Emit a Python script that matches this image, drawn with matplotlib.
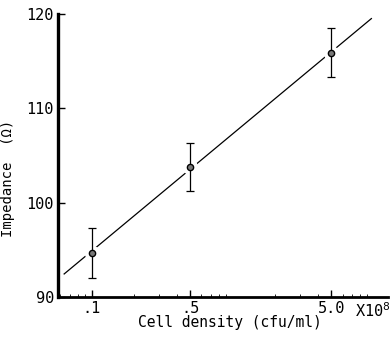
import matplotlib
matplotlib.use("Agg")
import matplotlib.pyplot as plt
import numpy as np

# cell density (x10^8 cfu/ml) and impedance (ohm)
density = [0.1, 0.5, 5.0]
impedance = [94.7, 103.8, 115.9]
err = [2.65, 2.55, 2.6]
tick_labels = [".1", ".5", "5.0"]
fit_range = [0.064, 9.6]

plt.rcParams['font.family'] = ['DejaVu Sans Mono', 'DejaVu Sans']

fig = plt.figure(figsize=(3.9, 3.37), dpi=100)
ax = fig.add_axes([0.149, 0.119, 0.846, 0.839])

# straight fit in log-x
b, a = np.polyfit(np.log10(density), impedance, 1)
xf = np.array(fit_range)
ax.plot(xf, a + b * np.log10(xf), color='black', lw=0.9, zorder=1)

# white halo so the fit line breaks around each point
ax.plot(density, impedance, 'o', ms=10, color='white', zorder=2)
ax.errorbar(density, impedance, yerr=err, fmt='none', ecolor='black',
            elinewidth=0.9, capsize=3, capthick=0.9, zorder=3)
ax.plot(density, impedance, 'o', ms=4.5, mfc='#777777', mec='black',
        mew=1.0, zorder=4)

ax.set_xscale('log')
ax.set_xlim(0.058, 12.6)
ax.set_ylim(90, 120)
ax.set_xticks(density)
ax.set_xticklabels(tick_labels)
ax.set_yticks([90, 100, 110, 120])
ax.xaxis.set_minor_formatter(plt.NullFormatter())

for s in ['top', 'right']:
    ax.spines[s].set_visible(False)
ax.spines['left'].set_linewidth(2.4)
ax.spines['bottom'].set_linewidth(2.0)
ax.tick_params(axis='both', which='major', direction='in', length=5,
               width=1, labelsize=11, pad=3)
ax.tick_params(axis='x', which='minor', direction='in', length=2, width=0.6)

ax.text(0.9, -0.014, "X10$^8$", transform=ax.transAxes, ha='left',
        va='top', fontsize=11)

ax.set_xlabel("Cell density (cfu/ml)", fontsize=10.5)
ax.xaxis.set_label_coords(0.52, -0.065)
ax.set_ylabel("Impedance  (\u03a9)", fontsize=10)
ax.yaxis.set_label_coords(-0.13, 0.42)

fig.savefig("out.png", dpi=100)
